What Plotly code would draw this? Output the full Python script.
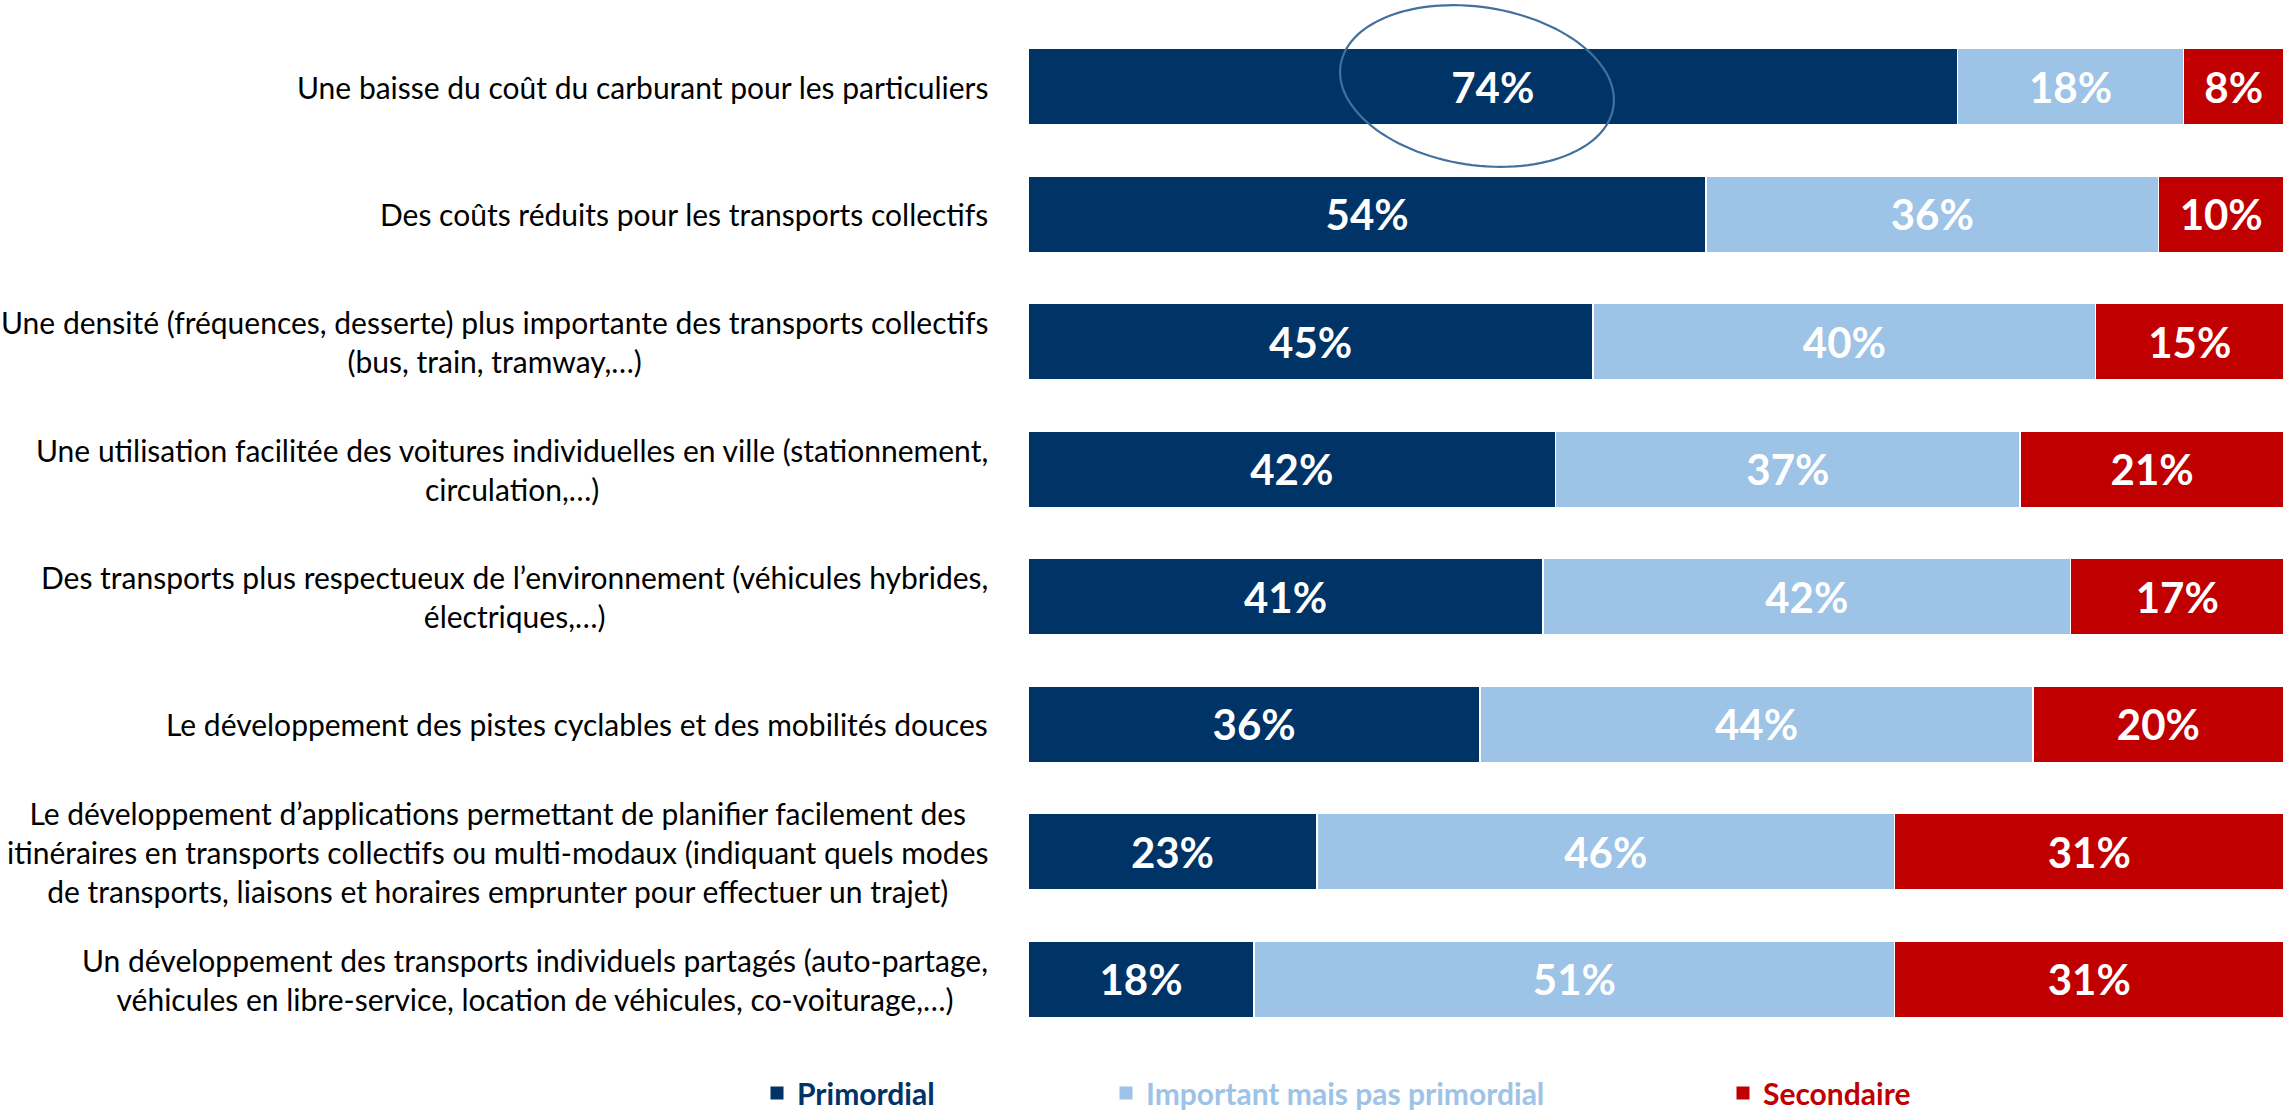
import numpy as np
import plotly.graph_objects as go

# ---------------- data ----------------
categories = [
    "Une baisse du coût du carburant pour les particuliers",
    "Des coûts réduits pour les transports collectifs",
    "Une densité (fréquences, desserte) plus importante des transports collectifs<br>(bus, train, tramway,…)",
    "Une utilisation facilitée des voitures individuelles en ville (stationnement,<br>circulation,…)",
    "Des transports plus respectueux de l’environnement (véhicules hybrides,<br>électriques,…)",
    "Le développement des pistes cyclables et des mobilités douces",
    "Le développement d’applications permettant de planifier facilement des<br>itinéraires en transports collectifs ou multi-modaux (indiquant quels modes<br>de transports, liaisons et horaires emprunter pour effectuer un trajet)",
    "Un développement des transports individuels partagés (auto-partage,<br>véhicules en libre-service, location de véhicules, co-voiturage,…)",
]
primordial = [74, 54, 45, 42, 41, 36, 23, 18]
important = [18, 36, 40, 37, 42, 44, 46, 51]
secondaire = [8, 10, 15, 21, 17, 20, 31, 31]
series_names = ["Primordial", "Important mais pas primordial", "Secondaire"]

# ---------------- styles ----------------
colors = ["#003366", "#9DC3E6", "#C00000"]
W, H = 2284, 1110
ML, MR, MT, MB = 1028, 0, 23, 67
PW, PH = W - ML - MR, H - MT - MB
FONT = "Lato"
legend_ids = ["legend", "legend2", "legend3"]

fig = go.Figure()
for i, (name, vals) in enumerate(zip(series_names, [primordial, important, secondaire])):
    fig.add_trace(go.Bar(
        y=categories, x=vals, orientation="h", name=name,
        marker=dict(color=colors[i], line=dict(color="white", width=1.5)),
        text=[f"{v}%" for v in vals], textposition="inside",
        insidetextanchor="middle", constraintext="none",
        textfont=dict(family=FONT, size=42, color="white", weight="bold"),
        showlegend=False, legendgroup=name,
        hoverinfo="skip",
    ))
    # legend entry with a larger square symbol
    fig.add_trace(go.Scatter(
        x=[None], y=[None], mode="markers", name=name, legendgroup=name,
        marker=dict(symbol="square", size=13, color=colors[i]),
        legend=legend_ids[i], showlegend=True, hoverinfo="skip",
    ))

# category labels as centred annotations
for c in categories:
    fig.add_annotation(
        x=0, xref="paper", xanchor="right", xshift=-38,
        y=c, yref="y", yanchor="middle",
        text=c, align="center", showarrow=False,
        font=dict(family=FONT, size=30, color="#000000"),
    )

# highlight ellipse around the top value (pixel geometry -> paper coords)
cx, cy, a, b, th = 1477, 86, 138, 79, np.deg2rad(8.7)
t = np.linspace(0, 2 * np.pi, 121)
px = cx + a * np.cos(t) * np.cos(th) - b * np.sin(t) * np.sin(th)
py = cy + a * np.cos(t) * np.sin(th) + b * np.sin(t) * np.cos(th)
xp = (px - ML) / PW
yp = (H - MB - py) / PH
path = "M" + " L".join(f"{x:.5f},{y:.5f}" for x, y in zip(xp, yp)) + " Z"
fig.add_shape(type="path", path=path, xref="paper", yref="paper",
              line=dict(color="#41719C", width=2.2), layer="above")

legend_common = dict(orientation="h", xref="container", yref="container",
                     yanchor="middle", y=1 - 1093 / H,
                     bgcolor="rgba(0,0,0,0)", itemclick=False, itemdoubleclick=False)
leg_x = [757 / W, 1106 / W, 1723 / W]
fig.update_layout(
    width=W, height=H,
    margin=dict(l=ML, r=MR, t=MT, b=MB, pad=0),
    barmode="stack", bargap=0.4,
    showlegend=True,
    plot_bgcolor="white", paper_bgcolor="white",
    font=dict(family=FONT),
    xaxis=dict(range=[0, 100], visible=False, fixedrange=True),
    yaxis=dict(categoryorder="array", categoryarray=categories, autorange="reversed",
               showticklabels=False, showgrid=False, zeroline=False, fixedrange=True),
    legend=dict(x=leg_x[0], font=dict(family=FONT, size=30, color=colors[0], weight="bold"), **legend_common),
    legend2=dict(x=leg_x[1], font=dict(family=FONT, size=30, color=colors[1], weight="bold"), **legend_common),
    legend3=dict(x=leg_x[2], font=dict(family=FONT, size=30, color=colors[2], weight="bold"), **legend_common),
)

fig.write_html("out.html", config={"displayModeBar": False},
               post_script="document.body.style.margin='0';document.body.style.overflow='hidden';")
